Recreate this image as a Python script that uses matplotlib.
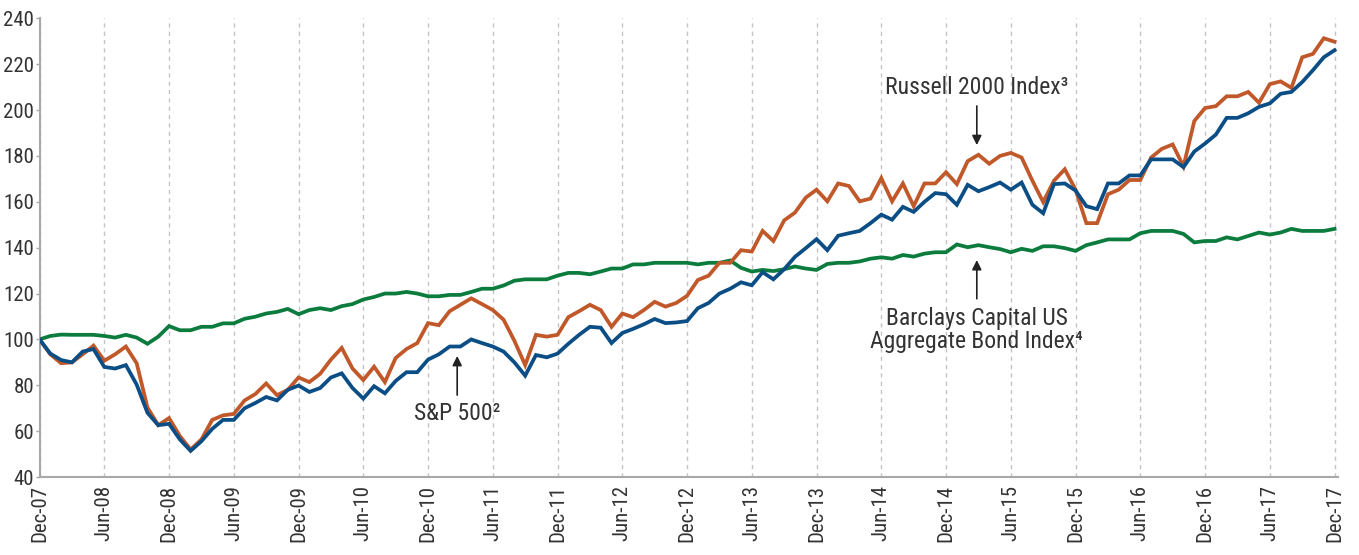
import numpy as np
import matplotlib
matplotlib.use("Agg")
import matplotlib.pyplot as plt

plt.rcParams['font.family'] = ['Roboto Condensed', 'Liberation Sans Narrow', 'DejaVu Sans']
plt.rcParams['font.stretch'] = 'condensed'

# monthly index values, Dec-07 = 100
sp500 = [100, 93.8, 91, 90, 94.7, 95.8, 88, 87.3, 88.8, 80.3,
         68, 62.6, 63.2, 56.4, 51.4, 55.6, 61, 64.9, 64.9, 70,
         72.3, 74.9, 73.4, 78, 79.9, 77.1, 78.8, 83.4, 85.2, 78.8,
         74.2, 79.6, 76.5, 81.9, 85.7, 85.7, 91.2, 93.5, 96.9, 96.9,
         100, 98.4, 96.9, 94.7, 90, 84.2, 93.2, 92.2, 93.8, 98.1,
         102, 105.5, 105.1, 98.4, 102.8, 104.6, 106.6, 108.9, 107.1, 107.4,
         108, 113.6, 115.9, 120, 122.1, 124.9, 123.6, 129.3, 126.2, 130.6,
         136, 139.8, 143.7, 138.9, 145.2, 146.3, 147.3, 150.7, 154.4, 152.2,
         157.8, 155.6, 160, 163.8, 163.3, 158.7, 167.4, 164.6, 166.4, 168.4,
         165.3, 168.4, 158.7, 155, 167.7, 168, 164.9, 158.1, 156.8, 168,
         168, 171.5, 171.5, 178.5, 178.5, 178.5, 175.1, 181.9, 185.4, 189.3,
         196.6, 196.6, 198.6, 201.4, 202.9, 207.1, 207.9, 212.2, 217.4, 223,
         226.1]

russell = [100, 93.5, 89.6, 90, 93.5, 97.3, 90.7, 93.5, 96.9, 89.6,
           70.3, 62.6, 65.7, 57.9, 52, 56.4, 64.9, 66.9, 67.5, 73.4,
           76.2, 80.8, 75.7, 78, 83.4, 81.4, 85, 91.2, 96.3, 87.3,
           82.3, 88.1, 81.4, 91.9, 95.8, 98.4, 107.1, 106.2, 112.3, 115.1,
           117.9, 115.4, 112.8, 108.6, 99.4, 88.8, 102, 101.2, 102, 109.7,
           112.3, 115.1, 112.8, 105.5, 111.3, 109.7, 112.8, 116.4, 114.3, 115.9,
           119, 125.9, 127.8, 133.4, 133.4, 138.9, 138.3, 147.3, 142.9, 151.9,
           155.3, 161.8, 165.3, 160.2, 168, 166.9, 160.2, 161.4, 170.3, 160.2,
           168, 158.1, 168, 168, 172.9, 167.7, 177.7, 180.5, 176.6, 180,
           181.3, 179.3, 169.2, 159.9, 169.2, 174.2, 165.3, 150.7, 150.7, 163.3,
           165.3, 169.5, 169.5, 179.3, 183.1, 185, 175.4, 195.2, 200.9, 201.7,
           206, 206, 207.9, 203.2, 211.3, 212.5, 209.7, 223, 224.5, 231.3,
           229.8]

barclays = [100, 101.5, 102.1, 102, 102, 102, 101.5, 100.8, 102, 100.8,
            98.1, 101.2, 105.8, 104, 104, 105.5, 105.5, 107, 107, 109,
            109.9, 111.3, 112, 113.3, 111, 112.8, 113.6, 112.8, 114.5, 115.4,
            117.4, 118.5, 120, 120, 120.7, 120, 118.8, 118.8, 119.4, 119.4,
            120.7, 122.1, 122.1, 123.5, 125.6, 126.2, 126.2, 126.2, 127.8, 129,
            129, 128.4, 129.6, 130.9, 130.9, 132.7, 132.7, 133.4, 133.4, 133.4,
            133.4, 132.7, 133.4, 133.4, 134.4, 131.2, 129.6, 130.3, 129.8, 130.6,
            131.8, 130.9, 130.3, 132.9, 133.4, 133.4, 134, 135.2, 135.8, 135.2,
            136.8, 136.1, 137.4, 138, 138, 141.4, 140.2, 141.1, 140.2, 139.4,
            138, 139.5, 138.6, 140.6, 140.6, 139.8, 138.6, 141.1, 142.3, 143.6,
            143.6, 143.6, 146.3, 147.3, 147.3, 147.3, 146, 142.3, 142.9, 142.9,
            144.5, 143.6, 145.1, 146.6, 145.7, 146.6, 148.2, 147.3, 147.3, 147.3,
            148.2]

tick_labels = ['Dec-07', 'Jun-08', 'Dec-08', 'Jun-09', 'Dec-09', 'Jun-10', 'Dec-10',
               'Jun-11', 'Dec-11', 'Jun-12', 'Dec-12', 'Jun-13', 'Dec-13', 'Jun-14',
               'Dec-14', 'Jun-15', 'Dec-15', 'Jun-16', 'Dec-16', 'Jun-17', 'Dec-17']

months = np.arange(len(sp500))
ticks = np.arange(0, len(sp500), 6)

blue = '#0b4d85'
orange = '#c1582a'
green = '#0b7b3e'
text_col = '#333333'
axis_col = '#a8a8a8'

fig = plt.figure(figsize=(13.59, 5.55), dpi=100)
ax = fig.add_axes([0.0291, 0.1405, 0.9553, 0.8265])

for t in ticks:
    ax.axvline(t, color='#c4c4c4', lw=1, ls=(0, (3, 3)), zorder=0)

ax.plot(months, barclays, color=green, lw=2.7, solid_joinstyle='miter', zorder=2)
ax.plot(months, russell, color=orange, lw=2.7, solid_joinstyle='miter', zorder=3)
ax.plot(months, sp500, color=blue, lw=2.7, solid_joinstyle='miter', zorder=4)

ax.set_xlim(0, 120.3)
ax.set_ylim(40, 240)
ax.set_yticks(np.arange(40, 241, 20))
ax.set_xticks(ticks)
ax.set_xticklabels(tick_labels, rotation=90)
ax.tick_params(axis='both', colors=axis_col, labelcolor=text_col, labelsize=15,
               length=4, width=1)
ax.tick_params(axis='x', length=0, pad=6)
ax.tick_params(axis='y', length=3, pad=1)

for s in ['top', 'right']:
    ax.spines[s].set_visible(False)
for s in ['left', 'bottom']:
    ax.spines[s].set_color(axis_col)
    ax.spines[s].set_linewidth(1.5)

arrow = dict(arrowstyle='-|>', color='#222222', lw=1.2, mutation_scale=14)
ax.annotate('', xy=(86.85, 183.5), xytext=(86.85, 203), arrowprops=arrow)
ax.text(86.85, 205, 'Russell 2000 Index³', ha='center', va='bottom',
        fontsize=17, color=text_col)

ax.annotate('', xy=(86.85, 135.8), xytext=(86.85, 116.5), arrowprops=arrow)
ax.text(86.85, 114, 'Barclays Capital US\nAggregate Bond Index⁴', ha='center',
        va='top', fontsize=17, color=text_col, linespacing=1.0)

ax.annotate('', xy=(38.7, 94), xytext=(38.7, 74.5), arrowprops=arrow)
ax.text(38.7, 72.5, 'S&P 500²', ha='center', va='top', fontsize=17, color=text_col)

fig.savefig('out.png', dpi=100)
